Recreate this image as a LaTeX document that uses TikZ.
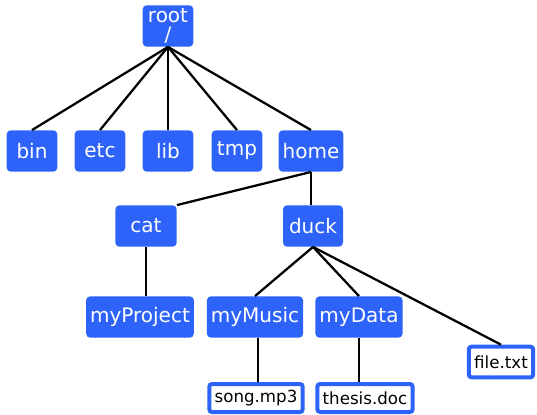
\documentclass[tikz,border=0pt]{standalone}
\usepackage{fontspec}
\setmainfont{DejaVu Sans}
\definecolor{dirblue}{RGB}{46,99,250}

\begin{document}
\begin{tikzpicture}[x=0.75pt, y=-0.75pt,
    dir/.style={fill=dirblue, text=white, rounded corners=3pt, inner xsep=3pt, inner ysep=1pt,
        minimum width=38pt, minimum height=31pt, align=center, font=\fontsize{15}{14.5}\selectfont},
    file/.style={draw=dirblue, line width=3pt, fill=white, text=black, rounded corners=2pt,
        inner xsep=4pt, inner ysep=1pt, minimum height=21pt, font=\fontsize{12.5}{13}\selectfont},
    edge/.style={line width=1.7pt}]
    \useasboundingbox (0,0) rectangle (537,415);

    % Directories
    \node[dir] (root) at (168,26) {root\\/};
    \node[dir] (bin) at (32,151) {bin};
    \node[dir] (etc) at (100,151) {etc};
    \node[dir] (lib) at (168,151) {lib};
    \node[dir] (tmp) at (237,151) {tmp};
    \node[dir] (home) at (311,151) {home};
    \node[dir, minimum width=46pt] (cat) at (146,226) {cat};
    \node[dir, minimum width=45pt] (duck) at (313,226) {duck};
    \node[dir] (myProject) at (140,317) {myProject};
    \node[dir] (myMusic) at (255,317) {myMusic};
    \node[dir] (myData) at (359,317) {myData};

    % Plain files
    \node[file, minimum height=23pt] (filetxt) at (501,362) {file.txt};
    \node[file] (song) at (256,398) {song.mp3};
    \node[file] (thesis) at (365,398) {thesis.doc};

    % Links from parent to child
    \foreach \child in {bin, etc, lib, tmp, home}
        \draw[edge] (root.south) -- (\child.north);
    \draw[edge] (home.south) -- (cat.north east);
    \draw[edge] (home.south) -- (home.south |- duck.north);
    \draw[edge] (cat.south) -- (cat.south |- myProject.north);
    \foreach \child in {myMusic, myData, filetxt}
        \draw[edge] (duck.south) -- (\child.north);
    \draw[edge] ([xshift=2pt]myMusic.south) -- ([xshift=2pt]myMusic.south |- song.north);
    \draw[edge] (myData.south) -- (myData.south |- thesis.north);
\end{tikzpicture}
\end{document}
